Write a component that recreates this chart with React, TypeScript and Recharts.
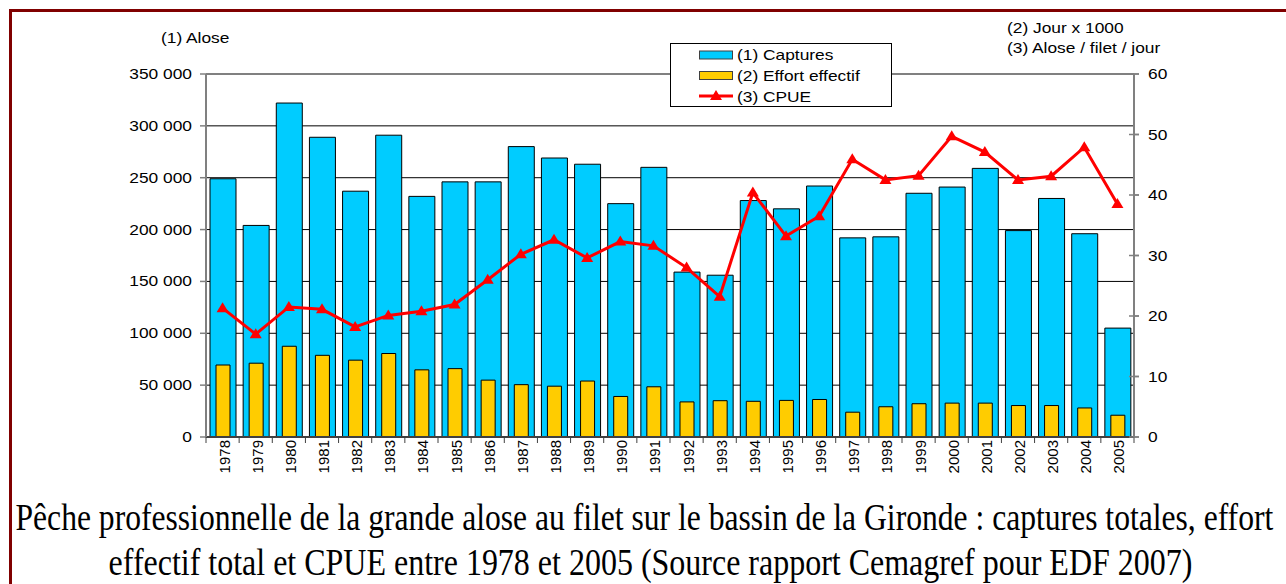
import React from 'react';
import { ComposedChart, Bar, Line, XAxis, YAxis, CartesianGrid, ReferenceLine } from 'recharts';

const years = ['1978', '1979', '1980', '1981', '1982', '1983', '1984', '1985', '1986', '1987', '1988', '1989', '1990', '1991', '1992', '1993', '1994', '1995', '1996', '1997', '1998', '1999', '2000', '2001', '2002', '2003', '2004', '2005'];
const captures = [249000, 204000, 322000, 289000, 237000, 291000, 232000, 246000, 246000, 280000, 269000, 263000, 225000, 260000, 159000, 156000, 228000, 220000, 242000, 192000, 193000, 235000, 241000, 259000, 199000, 230000, 196000, 105000];
const effort = [11.9, 12.2, 15.0, 13.5, 12.7, 13.8, 11.1, 11.3, 9.4, 8.65, 8.4, 9.25, 6.7, 8.3, 5.8, 6.0, 5.9, 6.05, 6.2, 4.1, 5.0, 5.5, 5.6, 5.6, 5.2, 5.2, 4.8, 3.6];
const cpue = [21.3, 17.0, 21.5, 21.1, 18.2, 20.1, 20.8, 21.9, 26.0, 30.2, 32.6, 29.6, 32.3, 31.6, 28.0, 23.2, 40.4, 33.2, 36.5, 45.9, 42.5, 43.2, 49.7, 47.1, 42.5, 43.1, 47.9, 38.5];
const leftTicks = [0, 50000, 100000, 150000, 200000, 250000, 300000, 350000];
const rightTicks = [0, 10, 20, 30, 40, 50, 60];

const seriesNames = ['(1) Captures', '(2) Effort effectif', '(3) CPUE'];
const leftTitle = '(1) Alose';
const rightTitles = ['(2) Jour x 1000', '(3) Alose / filet / jour'];
const captionLines = [
  'Pêche professionnelle de la grande alose au filet sur le bassin de la Gironde : captures totales, effort',
  'effectif total et CPUE entre 1978 et 2005 (Source rapport Cemagref pour EDF 2007)',
];

const data = years.map((year, i) => ({ year, captures: captures[i], effort: effort[i], cpue: cpue[i] }));

const FONT = '"Liberation Sans", Arial, sans-serif';
const SERIF = '"Liberation Serif", "Times New Roman", serif';
const STRETCH = 1.24;
const PLOT_W = 928;
const BAND_HALF = PLOT_W / years.length / 2;
const CYAN = '#00CCFF';
const YELLOW = '#FFCC00';
const RED = '#FF0000';
const AXIS_GREY = '#808080';

const fmt = (v: number) => String(v).replace(/\B(?=(\d{3})+(?!\d))/g, ' ');

const XTick = (props: any) => {
  const { x, y, payload, index } = props;
  const axisY = y - 3;
  const tx = x + 1.5;
  return (
    <g>
      <line x1={x - BAND_HALF} x2={x - BAND_HALF} y1={axisY} y2={axisY + 6} stroke="#404040" strokeWidth={1} />
      {index === years.length - 1 && (
        <line x1={x + BAND_HALF} x2={x + BAND_HALF} y1={axisY} y2={axisY + 6} stroke="#404040" strokeWidth={1} />
      )}
      <text
        x={tx}
        y={y}
        transform={`rotate(-90 ${tx} ${y})`}
        textAnchor="end"
        dominantBaseline="central"
        fontSize={15}
        fontFamily={FONT}
        fill="#000"
      >
        {payload.value}
      </text>
    </g>
  );
};

const LeftTick = (props: any) => {
  const { x, y, payload } = props;
  return (
    <text
      transform={`translate(${x},${y}) scale(${STRETCH},1)`}
      textAnchor="end"
      dy="0.36em"
      fontSize={14}
      fontFamily={FONT}
      fill="#000"
    >
      {fmt(payload.value)}
    </text>
  );
};

const RightTick = (props: any) => {
  const { x, y, payload } = props;
  return (
    <g>
      <line x1={x - 19} x2={x - 9} y1={y} y2={y} stroke={AXIS_GREY} strokeWidth={1.5} />
      <text
        transform={`translate(${x},${y}) scale(${STRETCH},1)`}
        textAnchor="start"
        dy="0.36em"
        fontSize={14}
        fontFamily={FONT}
        fill="#000"
      >
        {payload.value}
      </text>
    </g>
  );
};

const Tri = (props: any) => {
  const { cx, cy, index } = props;
  if (cx == null || cy == null) return <g key={`t${index}`} />;
  return <path key={`t${index}`} d={`M${cx},${cy - 6}L${cx + 6},${cy + 4}L${cx - 6},${cy + 4}Z`} fill={RED} />;
};

const StretchText = ({ x, y, children, size = 14, anchor = 'start' }: any) => (
  <text
    transform={`translate(${x},${y}) scale(${STRETCH},1)`}
    textAnchor={anchor}
    fontSize={size}
    fontFamily={FONT}
    fill="#000"
  >
    {children}
  </text>
);

export default function App() {
  return (
    <div style={{ position: 'absolute', left: 0, top: 0, width: 1286, height: 584, overflow: 'hidden', background: '#fff' }}>
      <div
        style={{
          position: 'absolute',
          left: 9,
          top: 9,
          width: 1400,
          height: 700,
          borderLeft: '3px solid #800000',
          borderTop: '3px solid #800000',
        }}
      />
      <div style={{ position: 'absolute', left: 0, top: 0 }}>
        <ComposedChart width={1286} height={584} data={data} margin={{ top: 74, right: 92, bottom: 97, left: 146 }}>
          <CartesianGrid yAxisId="left" xAxisId="main" horizontal vertical={false} stroke="#000" strokeWidth={1} />
          <XAxis
            xAxisId="main"
            dataKey="year"
            type="category"
            interval={0}
            height={50}
            tickLine={false}
            tickSize={0}
            tickMargin={3}
            axisLine={{ stroke: '#404040', strokeWidth: 2 }}
            tick={<XTick />}
          />
          <XAxis xAxisId="eff" dataKey="year" type="category" hide height={0} />
          <YAxis
            yAxisId="left"
            orientation="left"
            width={60}
            domain={[0, 350000]}
            ticks={leftTicks}
            interval={0}
            tickSize={6}
            tickMargin={8}
            tickLine={{ stroke: AXIS_GREY, strokeWidth: 1.5 }}
            axisLine={{ stroke: AXIS_GREY, strokeWidth: 2 }}
            tick={<LeftTick />}
          />
          <YAxis
            yAxisId="right"
            orientation="right"
            width={60}
            domain={[0, 60]}
            ticks={rightTicks}
            interval={0}
            tickSize={5}
            tickMargin={9}
            tickLine={{ stroke: AXIS_GREY, strokeWidth: 1.5 }}
            axisLine={{ stroke: AXIS_GREY, strokeWidth: 2 }}
            tick={<RightTick />}
          />
          <ReferenceLine yAxisId="left" xAxisId="main" y={350000} stroke={AXIS_GREY} strokeWidth={2} />
          <Bar
            xAxisId="main"
            yAxisId="left"
            dataKey="captures"
            name={seriesNames[0]}
            barSize={26}
            fill={CYAN}
            stroke="#000"
            strokeWidth={1}
            isAnimationActive={false}
          />
          <Bar
            xAxisId="eff"
            yAxisId="right"
            dataKey="effort"
            name={seriesNames[1]}
            barSize={14}
            fill={YELLOW}
            stroke="#000"
            strokeWidth={1}
            isAnimationActive={false}
          />
          <Line
            xAxisId="main"
            yAxisId="right"
            type="linear"
            dataKey="cpue"
            name={seriesNames[2]}
            stroke={RED}
            strokeWidth={3}
            dot={Tri}
            activeDot={false}
            isAnimationActive={false}
          />
        </ComposedChart>
      </div>
      <svg width={1286} height={584} style={{ position: 'absolute', left: 0, top: 0, pointerEvents: 'none' }}>
        <StretchText x={161} y={42.5}>{leftTitle}</StretchText>
        <StretchText x={1007} y={32.5}>{rightTitles[0]}</StretchText>
        <StretchText x={1007} y={53}>{rightTitles[1]}</StretchText>

        <rect x={670.5} y={43.5} width={221} height={63} fill="#fff" stroke="#000" strokeWidth={1} />
        <rect x={699.5} y={51} width={33} height={8} fill={CYAN} stroke="#404040" strokeWidth={1} />
        <rect x={699.5} y={71.5} width={33} height={8} fill={YELLOW} stroke="#404040" strokeWidth={1} />
        <line x1={699} x2={733} y1={96} y2={96} stroke={RED} strokeWidth={3} />
        <path d={`M716,${96 - 6}L722,${96 + 4}L710,${96 + 4}Z`} fill={RED} />
        <StretchText x={737} y={60}>{seriesNames[0]}</StretchText>
        <StretchText x={737} y={80.7}>{seriesNames[1]}</StretchText>
        <StretchText x={737} y={101.7}>{seriesNames[2]}</StretchText>

        <text transform="translate(15.5,530) scale(0.832,1)" fontSize={38} fontFamily={SERIF} fill="#000">
          {captionLines[0]}
        </text>
        <text transform="translate(650.5,575) scale(0.842,1)" textAnchor="middle" fontSize={38} fontFamily={SERIF} fill="#000">
          {captionLines[1]}
        </text>
      </svg>
    </div>
  );
}
